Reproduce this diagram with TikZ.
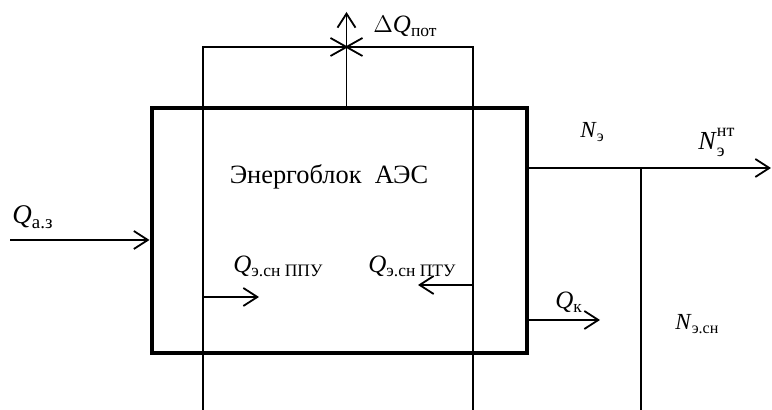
\documentclass[tikz,border=0pt]{standalone}
\usepackage{fontspec}
\setmainfont{Liberation Serif}
\usetikzlibrary{arrows.meta,calc}

\newcommand{\idx}[2]{\textit{#1}\textsubscript{#2}}
\newcommand{\supsub}[3]{\textit{#1}\rlap{\raisebox{6.5pt}{\fontsize{9}{10}\selectfont #2}}\raisebox{-3.5pt}{\fontsize{9}{10}\selectfont #3}\hphantom{#2}}

\begin{document}
\begin{tikzpicture}[x=0.5pt, y=-0.5pt,
    >={Straight Barb[length=7pt,width=9pt]},
    thin/.style={line width=0.9pt},
    blokbox/.style={draw, line width=2pt, inner sep=0pt,
      minimum width=187.75pt, minimum height=122.5pt},
    lbl/.style={inner sep=0pt, anchor=base west, font=\fontsize{12.5}{15}\selectfont},
    nlbl/.style={lbl, font=\fontsize{11.5}{14}\selectfont}]
  \useasboundingbox (0,0) rectangle (772,410);
  % energy unit
  \node[blokbox] (blok) at (339.25,230.5) {};
  \node[font=\fontsize{13.2}{16}\selectfont] (title) at (329,177) {Энергоблок\ \ АЭС};
  % frame of the steam lines
  \coordinate (ppuT) at (203,47);
  \coordinate (ppuB) at (203,410);
  \coordinate (ptuT) at (473,47);
  \coordinate (ptuB) at (473,410);
  \draw[thin] (ppuB) -- (ppuT) -- (ptuT) -- (ptuB);
  % losses
  \coordinate (pot) at (346.5,12);
  \coordinate (cr) at (pot |- ppuT);
  \draw[thin,->] (pot |- blok.north) -- (pot);
  \draw[thin] ($(cr)+(-16,9)$) -- (cr) -- ($(cr)+(16,9)$);
  \draw[thin] ($(cr)+(-16,-9)$) -- (cr) -- ($(cr)+(16,-9)$);
  \node[lbl] (dq) at (373,33) {$\Delta$\idx{Q}{пот}};
  % input heat
  \coordinate (qaz) at (10,240);
  \draw[thin,->] (qaz) -- (qaz -| blok.west);
  \node[lbl, font=\fontsize{13.5}{16}\selectfont] (qazl) at (12,224) {\idx{Q}{а.з}};
  % own needs
  \coordinate (ppuA) at (203,297);
  \coordinate (ppuE) at (259,297);
  \draw[thin,->] (ppuA) -- (ppuE);
  \node[lbl] (qppu) at (233,273) {\idx{Q}{э.сн ППУ}};
  \coordinate (ptuA) at (473,285);
  \coordinate (ptuE) at (418,285);
  \draw[thin,->] (ptuA) -- (ptuE);
  \node[lbl] (qptu) at (368,273) {\idx{Q}{э.сн ПТУ}};
  % electric power
  \coordinate (ne) at (771,168);
  \draw[thin,->] (ne -| blok.east) -- (ne);
  \node[nlbl] (nel) at (580,138) {\idx{N}{э}};
  \node[nlbl, font=\fontsize{13}{15}\selectfont] (nnt) at (698,150) {\supsub{N}{нт}{э}};
  \coordinate (nsn) at (641,410);
  \draw[thin] (nsn |- ne) -- (nsn);
  \node[nlbl] (nsnl) at (675,330) {\idx{N}{э.сн}};
  % condenser
  \coordinate (qk) at (600,320);
  \draw[thin,->] (qk -| blok.east) -- (qk);
  \node[lbl] (qkl) at (555,309) {\idx{Q}{к}};
\end{tikzpicture}
\end{document}
